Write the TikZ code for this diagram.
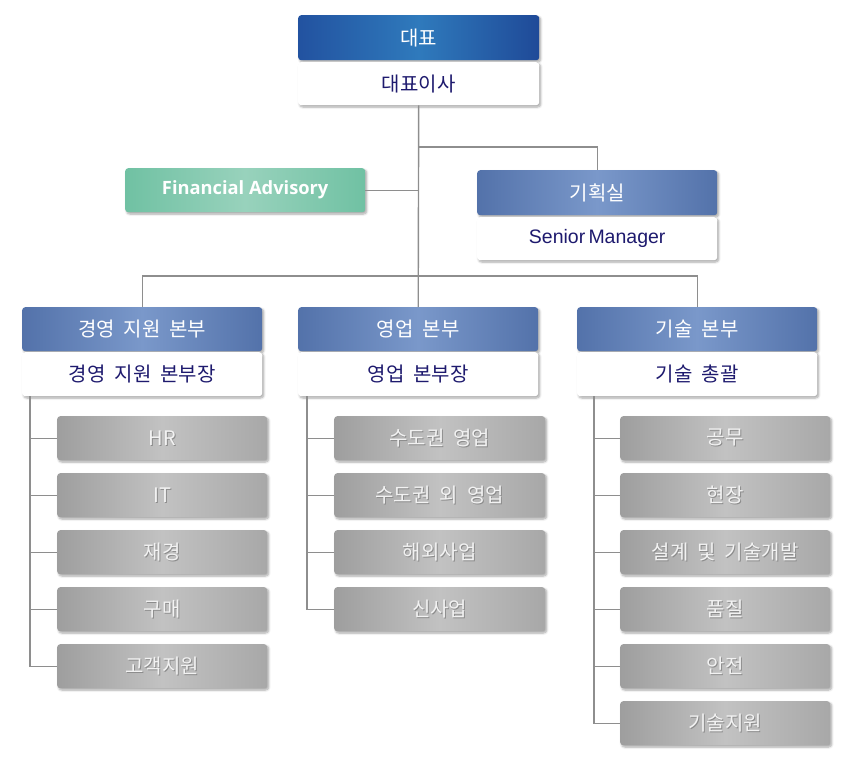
\documentclass[tikz,border=0pt]{standalone}
\usepackage{fontspec}
\setmainfont[WordSpace=2]{Noto Sans CJK KR}
\newfontfamily\latfont[WordSpace=0.6]{Liberation Sans}
\newfontfamily\fafont{Open Sans}
\usetikzlibrary{shadows.blur}
\definecolor{navy}{HTML}{1E1A6E}
\definecolor{ceoA}{HTML}{2252A0}
\definecolor{ceoB}{HTML}{2F7ABC}
\definecolor{ceoC}{HTML}{1F4A98}
\definecolor{divA}{HTML}{5372AA}
\definecolor{divB}{HTML}{7A98CA}
\definecolor{grnA}{HTML}{70C1A3}
\definecolor{grnB}{HTML}{98D2BC}
\definecolor{gryA}{HTML}{9E9E9E}
\definecolor{gryB}{HTML}{C2C2C2}
\definecolor{linec}{HTML}{8E8E8E}
\newcommand{\shtext}[1]{\leavevmode\rlap{\raisebox{-1pt}{\hspace{1pt}\textcolor{black!45}{#1}}}\textcolor{white!95!black}{#1}}
\tikzset{
  base/.style={anchor=north west, inner sep=0pt, rounded corners=3pt,
    blur shadow={shadow xshift=1.5pt, shadow yshift=-1.8pt, shadow opacity=35, shadow blur steps=6},
    font=\fontsize{20}{22}\selectfont, align=center},
  ceohead/.style={base, minimum width=241pt, minimum height=45pt,
    left color=ceoA, right color=ceoC, middle color=ceoB, text=white},
  divhead/.style={base, minimum width=240pt, minimum height=44pt,
    left color=divA, right color=divA, middle color=divB, text=white},
  whitebox/.style={base, minimum width=240pt, minimum height=43pt, fill=white, text=navy},
  greenbox/.style={base, minimum width=240pt, minimum height=44pt,
    left color=grnA, right color=grnA, middle color=grnB, text=white,
    font=\fafont\bfseries\fontsize{18.3}{20}\selectfont},
  graybox/.style={base, minimum width=211pt, minimum height=44pt,
    left color=gryA, right color=gryA!90!white, middle color=gryB},
  conn/.style={draw=linec, line width=1.4pt}
}
\begin{document}
\begin{tikzpicture}[x=1pt,y=-1pt]
\useasboundingbox (0,0) rectangle (847,763);
% top
\node[ceohead] (ceoh) at (298,15) {대표};
\node[whitebox, minimum width=241pt] (ceo) at (298,62) {대표이사};
% financial advisory
\node[greenbox] (fa) at (125,168) {Financial Advisory};
% planning
\node[divhead, minimum height=45pt] (planh) at (477,170) {기획실};
\node[whitebox, font=\latfont\fontsize{19.5}{21}\selectfont] (plan) at (477,217) {Senior Manager};
% divisions
\node[divhead] (d1h) at (22,307) {경영 지원 본부};
\node[whitebox, minimum height=44pt] (d1) at (22,352) {경영 지원 본부장};
\node[divhead] (d2h) at (298,307) {영업 본부};
\node[whitebox, minimum height=44pt] (d2) at (298,352) {영업 본부장};
\node[divhead] (d3h) at (577,307) {기술 본부};
\node[whitebox, minimum height=44pt] (d3) at (577,352) {기술 총괄};
% left items
\node[graybox, minimum width=210pt] (a1) at (57,416) {\shtext{HR}};
\node[graybox, minimum width=210pt] (a2) at (57,473) {\shtext{IT}};
\node[graybox, minimum width=210pt] (a3) at (57,530) {\shtext{재경}};
\node[graybox, minimum width=210pt] (a4) at (57,587) {\shtext{구매}};
\node[graybox, minimum width=210pt] (a5) at (57,644) {\shtext{고객지원}};
% middle items
\node[graybox] (b1) at (334,416) {\shtext{수도권 영업}};
\node[graybox] (b2) at (334,473) {\shtext{수도권 외 영업}};
\node[graybox] (b3) at (334,530) {\shtext{해외사업}};
\node[graybox] (b4) at (334,587) {\shtext{신사업}};
% right items
\node[graybox, minimum width=210pt] (c1) at (620,416) {\shtext{공무}};
\node[graybox, minimum width=210pt] (c2) at (620,473) {\shtext{현장}};
\node[graybox, minimum width=210pt] (c3) at (620,530) {\shtext{설계 및 기술개발}};
\node[graybox, minimum width=210pt] (c4) at (620,587) {\shtext{품질}};
\node[graybox, minimum width=210pt] (c5) at (620,644) {\shtext{안전}};
\node[graybox, minimum width=210pt] (c6) at (620,701) {\shtext{기술지원}};
% junctions
\coordinate (j1) at (418,147);
\coordinate (bus) at (418,276);
\coordinate (la) at (30,396);
\coordinate (lb) at (307,396);
\coordinate (lc) at (594,396);
% connectors
\draw[conn] (ceo.south) -- (d2h.north);
\draw[conn] (j1) -| (planh.north);
\draw[conn] (fa.east) -- (fa.east -| ceo.south);
\draw[conn] (d1h.north) |- (bus) -| (d3h.north);
\foreach \n in {a1,a2,a3,a4,a5} \draw[conn] (la) |- (\n.west);
\foreach \n in {b1,b2,b3,b4} \draw[conn] (lb) |- (\n.west);
\foreach \n in {c1,c2,c3,c4,c5,c6} \draw[conn] (lc) |- (\n.west);
\end{tikzpicture}
\end{document}
